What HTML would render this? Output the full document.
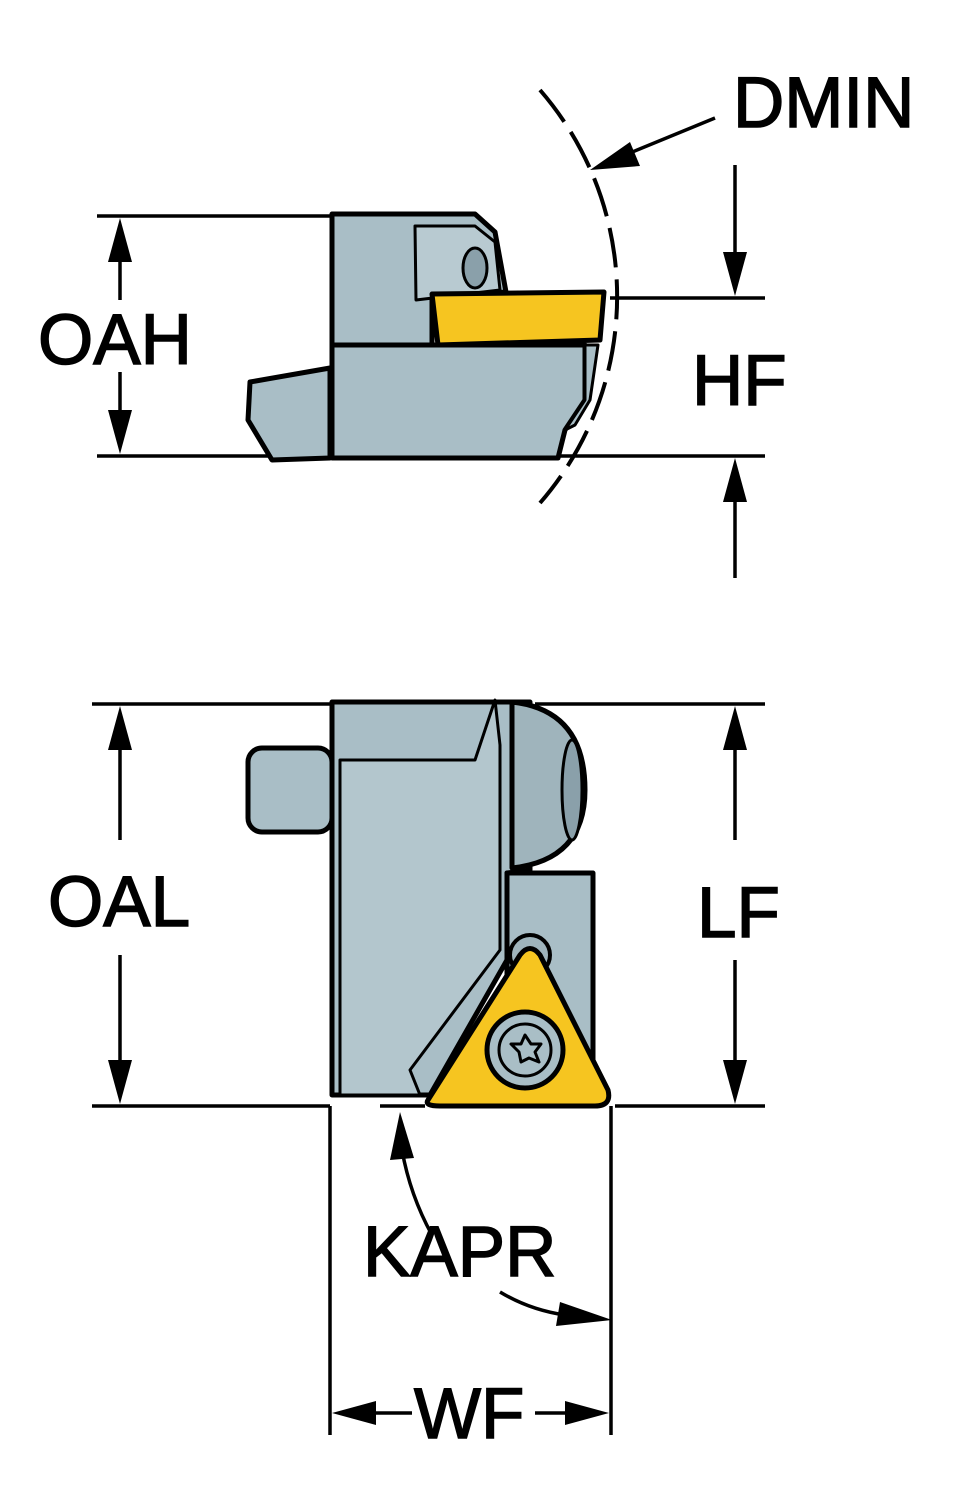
<!DOCTYPE html>
<html><head><meta charset="utf-8"><style>
html,body{margin:0;padding:0;background:#fff;}
svg{display:block;}
text{font-family:"Liberation Sans",sans-serif;font-size:71px;fill:#000;stroke:#000;stroke-width:1.5px;}
</style></head><body>
<svg width="964" height="1500" viewBox="0 0 964 1500" xmlns="http://www.w3.org/2000/svg">
<g stroke="#000" stroke-width="3.5" fill="none">
<line x1="97" y1="216" x2="330" y2="216"/>
<line x1="97" y1="456" x2="765" y2="456"/>
<line x1="120" y1="250" x2="120" y2="300"/>
<line x1="120" y1="372" x2="120" y2="420"/>
<line x1="610" y1="298" x2="765" y2="298"/>
<line x1="735" y1="165" x2="735" y2="260"/>
<line x1="735" y1="495" x2="735" y2="578"/>
<line x1="715" y1="118" x2="625" y2="155"/>
<path d="M540,90 A315,315 0 0 1 540,503" stroke-dasharray="40,12" stroke-width="4"/>
</g>
<g fill="#000">
<polygon points="120,218 108,262 132,262"/>
<polygon points="120,454 108,410 132,410"/>
<polygon points="735,296 723,252 747,252"/>
<polygon points="735,458 723,502 747,502"/>
<polygon points="590,170 630,142 640,166"/>
</g>
<g stroke="#000" stroke-width="5" stroke-linejoin="round" fill="#a9bec6">
<polygon points="250,382 330,368 330,458 272,460 248,420"/>
<polygon points="332,214 475,214 495,232 506,292 432,296 432,345 332,345"/>
<polygon points="332,345 585,345 585,400 565,430 558,458 332,458"/>
<polygon points="415,226 475,226 495,242 500,290 416,300" fill="#b8cad1" stroke-width="3"/>
<ellipse cx="475" cy="268" rx="12" ry="20" fill="#8aa0aa" stroke-width="3"/>
<polygon points="432,294 604,292 600,340 438,345" fill="#f6c520"/>
<polygon points="585,345 598,345 590,400 575,425 565,430 585,400" fill="#a9bec6" stroke-width="3"/>
</g>
<g stroke="#000" stroke-width="3.5" fill="none">
<line x1="92" y1="704" x2="330" y2="704"/>
<line x1="92" y1="1106" x2="330" y2="1106"/>
<line x1="535" y1="704" x2="765" y2="704"/>
<line x1="615" y1="1106" x2="765" y2="1106"/>
<line x1="380" y1="1106" x2="425" y2="1106"/>
<line x1="120" y1="740" x2="120" y2="840"/>
<line x1="120" y1="955" x2="120" y2="1070"/>
<line x1="735" y1="740" x2="735" y2="840"/>
<line x1="735" y1="960" x2="735" y2="1070"/>
<line x1="330" y1="1106" x2="330" y2="1435"/>
<line x1="611" y1="1106" x2="611" y2="1435"/>
<line x1="370" y1="1413" x2="412" y2="1413"/>
<line x1="535" y1="1413" x2="575" y2="1413"/>
<path d="M432,1235 Q410,1195 402,1150"/>
<path d="M500,1292 Q530,1310 565,1315"/>
</g>
<g fill="#000">
<polygon points="120,706 108,750 132,750"/>
<polygon points="120,1104 108,1060 132,1060"/>
<polygon points="735,706 723,750 747,750"/>
<polygon points="735,1104 723,1060 747,1060"/>
<polygon points="332,1413 376,1401 376,1425"/>
<polygon points="609,1413 565,1401 565,1425"/>
<polygon points="400,1112 390,1160 414,1158"/>
<polygon points="612,1320 560,1302 556,1326"/>
</g>
<g stroke="#000" stroke-width="5" stroke-linejoin="round" fill="#a9bec6">
<rect x="248" y="748" width="84" height="84" rx="14"/>
<polygon points="332,702 530,702 530,870 507,873 507,960 430,1095 332,1095"/>
<polygon points="340,760 475,760 495,700 500,745 500,950 410,1070 420,1095 340,1095" fill="#b3c6cd" stroke-width="3"/>
<path d="M512,702 Q585,710 585,790 Q585,860 512,868 Z" fill="#9fb4bc"/>
<ellipse cx="572" cy="790" rx="10" ry="50" fill="#8aa0aa" stroke-width="3"/>
<rect x="507" y="873" width="86" height="222"/>
<circle cx="530" cy="955" r="20" fill="#9fb4bc" stroke-width="4"/>
<path d="M428,1100 L520,955 Q530,942 540,955 L608,1090 Q612,1106 595,1106 L440,1106 Q424,1106 428,1100 Z" fill="#f6c520"/>
<circle cx="525" cy="1050" r="38" fill="#a9bec6"/>
<circle cx="525" cy="1050" r="26" fill="#a9bec6" stroke-width="3"/>
<polygon points="525,1035 531,1044 541,1044 535,1052 539,1062 529,1058 521,1062 519,1052 511,1044 521,1044" fill="#a9bec6" stroke-width="3"/>
</g>
<text x="38" y="364">OAH</text>
<text x="733" y="127">DMIN</text>
<text x="692" y="405">HF</text>
<text x="48" y="926">OAL</text>
<text x="697" y="937">LF</text>
<text x="363" y="1276">KAPR</text>
<text x="414" y="1438">WF</text>
</svg>
</body></html>
